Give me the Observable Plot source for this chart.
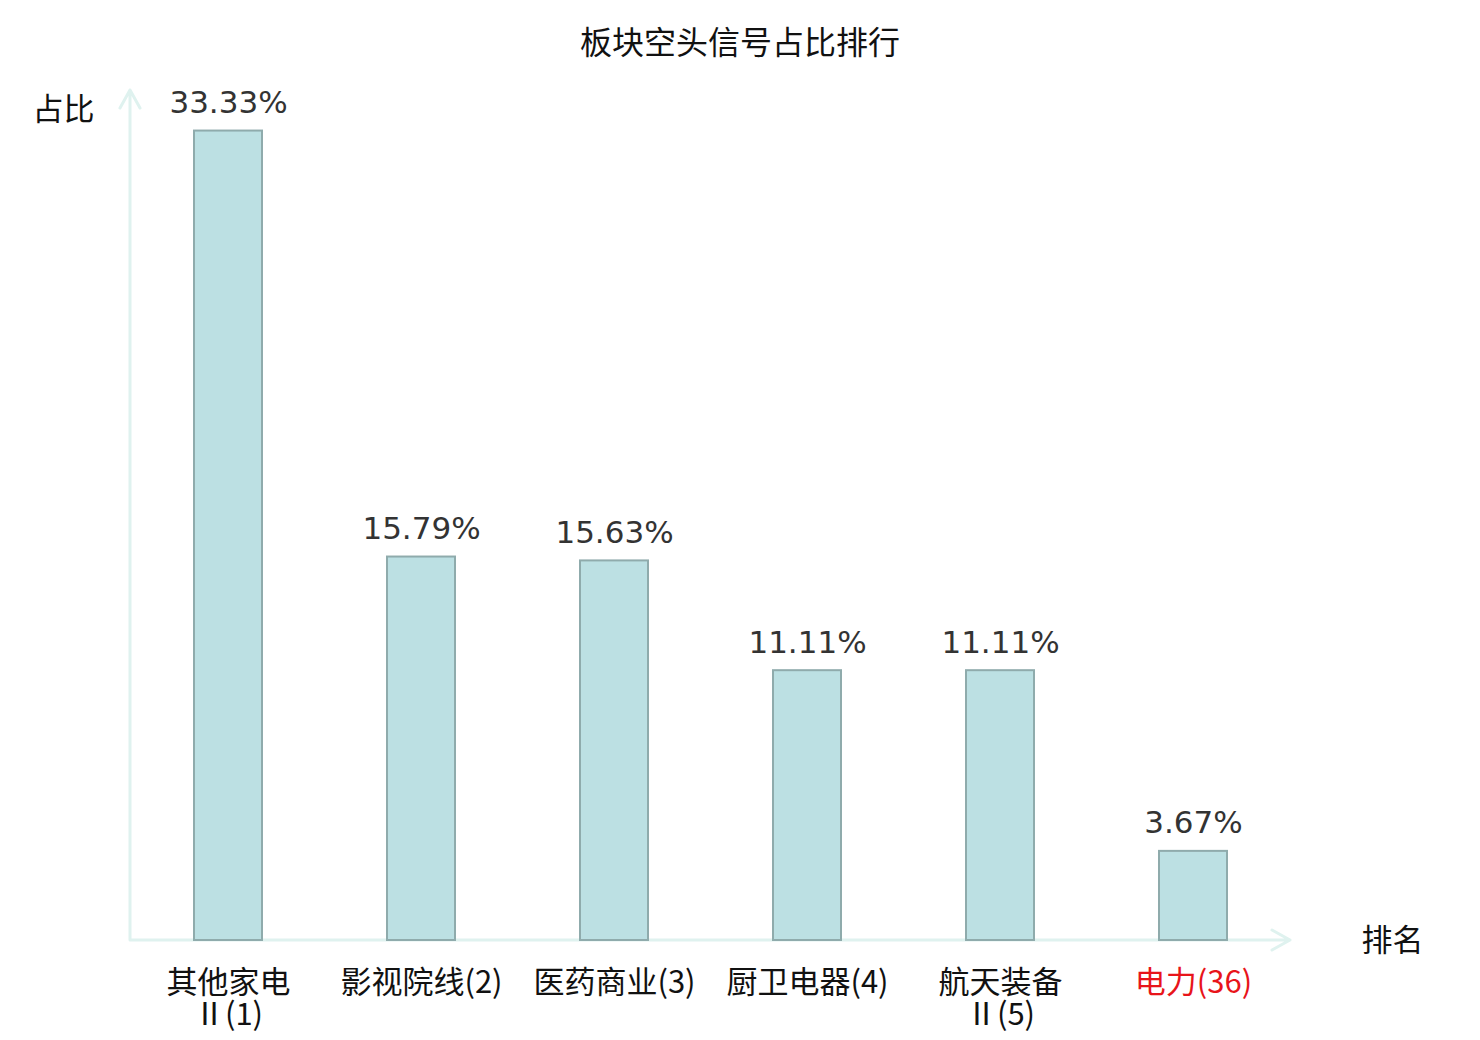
<!DOCTYPE html>
<html><head><meta charset="utf-8">
<script src="https://cdn.jsdelivr.net/npm/d3@7"></script>
<script src="https://cdn.jsdelivr.net/npm/@observablehq/plot@0.6"></script>
<style>
body{margin:0;background:#fff;}
#title{height:60px;box-sizing:border-box;padding-top:24px;text-align:center;font-family:"Noto Sans CJK SC";font-size:32px;line-height:32px;color:#111;}
#chart svg{display:block;}
</style></head><body>
<div id="title">板块空头信号占比排行</div>
<div id="chart"></div>
<script>
const categories = ["其他家电Ⅱ(1)", "影视院线(2)", "医药商业(3)", "厨卫电器(4)", "航天装备Ⅱ(5)", "电力(36)"];
const tickLabels = ["其他家电\nⅡ(1)", "影视院线(2)", "医药商业(3)", "厨卫电器(4)", "航天装备\nⅡ(5)", "电力(36)"];
const values = [33.33, 15.79, 15.63, 11.11, 11.11, 3.67];
const highlighted = ["电力(36)"];
const yAxisLabel = "占比";
const xAxisLabel = "排名";

const rows = categories.map((name, i) => ({
  name, value: values[i], label: values[i].toFixed(2) + "%", tick: tickLabels[i],
  hi: highlighted.includes(name)
}));

function axisMark(index, scales, vals, dim) {
  const x0 = dim.marginLeft, x1 = dim.width - dim.marginRight;
  const y0 = scales.y(0), yTop = dim.marginTop;
  const g = d3.create("svg:g").attr("fill", "none").attr("stroke", "#dff2ef")
    .attr("stroke-width", 3).attr("stroke-linecap", "round").attr("stroke-linejoin", "round");
  g.append("path").attr("d",
    `M${x0},${y0}H${x1}M${x1 - 18},${y0 - 10}L${x1},${y0}L${x1 - 18},${y0 + 10}` +
    `M${x0},${y0}V${yTop}M${x0 - 10},${yTop + 18}L${x0},${yTop}L${x0 + 10},${yTop + 18}`);
  return g.node();
}

const cjk = "Noto Sans CJK SC";
const chart = Plot.plot({
  width: 1480, height: 980,
  marginLeft: 130, marginRight: 190, marginTop: 30, marginBottom: 100,
  x: {domain: categories, type: "band", paddingInner: 0.65, paddingOuter: 0.325, axis: null},
  y: {domain: [0, 35], axis: null},
  style: {background: "white", overflow: "visible"},
  marks: [
    axisMark,
    Plot.barY(rows, {x: "name", y: "value", fill: "#bce0e3", stroke: "#8fabac", strokeWidth: 2}),
    Plot.text(rows, {x: "name", y: "value", text: "label", dy: -18, lineAnchor: "bottom", fontSize: 31, fill: "#333", fontFamily: "DejaVu Sans"}),
    Plot.text(rows.filter(d => !d.hi), {x: "name", y: 0, text: "tick", lineAnchor: "top", dy: 30, fontSize: 31, lineHeight: 1.03, fill: "#111", fontFamily: cjk}),
    Plot.text(rows.filter(d => d.hi), {x: "name", y: 0, text: "tick", lineAnchor: "top", dy: 30, fontSize: 31, lineHeight: 1.03, fill: "#e8141a", fontFamily: cjk}),
    Plot.text([yAxisLabel], {frameAnchor: "top-left", textAnchor: "middle", dx: -67, dy: 20, lineAnchor: "middle", fontSize: 31, fill: "#111", fontFamily: cjk}),
    Plot.text([xAxisLabel], {frameAnchor: "bottom-right", textAnchor: "middle", dx: 102, dy: 1, lineAnchor: "middle", fontSize: 31, fill: "#111", fontFamily: cjk})
  ]
});
document.getElementById("chart").append(chart);
</script>
</body></html>
